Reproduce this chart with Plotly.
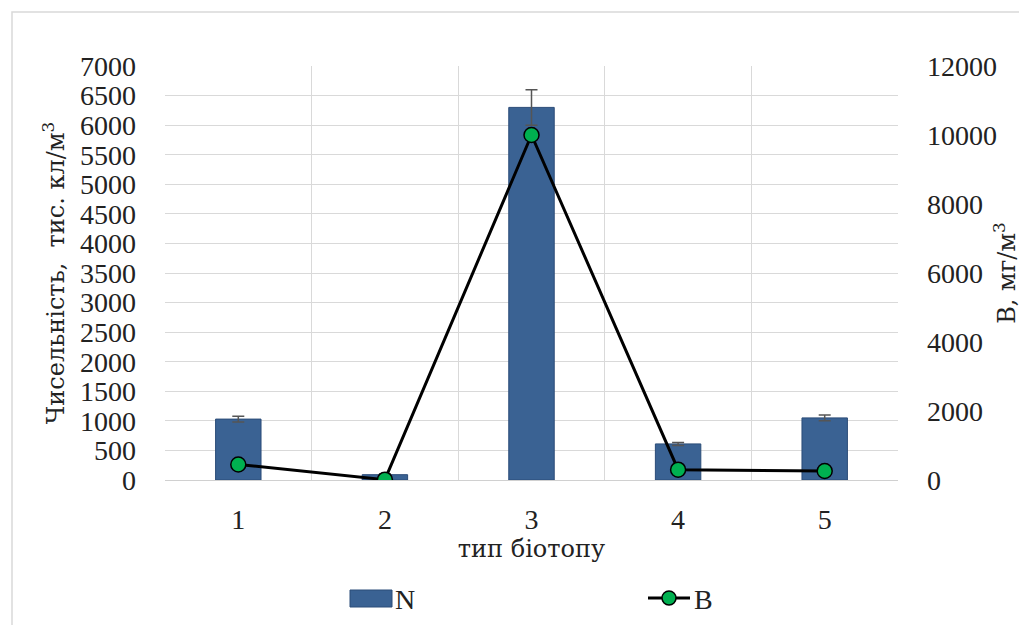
import plotly.graph_objects as go

categories = [1, 2, 3, 4, 5]
n_values = [1030, 90, 6300, 610, 1050]
n_errors = [50, 10, 300, 25, 50]
b_values = [450, 10, 10000, 300, 260]
left_ticks = list(range(0, 7001, 500))
right_ticks = list(range(0, 12001, 2000))

FONT = "Liberation Serif"
CYR_FONT = "DejaVu Serif"
FS = 28
BAR_COLOR = "#3A6293"
fig = go.Figure()
fig.add_trace(go.Bar(
    x=categories, y=n_values, name="N", width=0.31, showlegend=False,
    marker=dict(color=BAR_COLOR, line=dict(color="#2B4C78", width=1)),
    error_y=dict(type="data", array=n_errors, visible=True, color="#555555",
                 thickness=1.5, width=6),
))
fig.add_trace(go.Scatter(
    x=categories, y=b_values, name="B", yaxis="y2", mode="lines+markers", showlegend=False,
    line=dict(color="black", width=3),
    marker=dict(color="#00B050", size=15, line=dict(color="black", width=1.5)),
))

OFF = 8  # page body margin
L, R, T, B = 165 - OFF, 898 - OFF, 66 - OFF, 480 - OFF
W, H = 1027 - OFF, 625 - OFF

def px(x):
    return (x - OFF - L) / (R - L)

def py(y):
    return (B - (y - OFF)) / (B - T)

tfont = dict(family=FONT, size=FS, color="#222222")
cfont = dict(family=CYR_FONT, size=24, color="#222222")
fig.update_layout(
    width=W, height=H,
    margin=dict(l=L, r=W - R, t=T, b=H - B),
    paper_bgcolor="white", plot_bgcolor="white",
    font=tfont,
    showlegend=False,
    xaxis=dict(
        range=[0.5, 5.5], tickvals=categories, ticktext=[str(c) for c in categories],
        showgrid=False, zeroline=False, showline=True, linecolor="#d0d0d0",
        ticks="", ticklabelstandoff=14, automargin=False,
        minor=dict(tickvals=[0.5, 1.5, 2.5, 3.5, 4.5, 5.5], showgrid=True,
                   gridcolor="#d9d9d9", gridwidth=1, ticks=""),
        title=dict(text="тип біотопу", standoff=6, font=cfont),
    ),
    yaxis=dict(
        range=[0, 7000], tickvals=left_ticks, ticktext=[str(v) for v in left_ticks],
        showgrid=True, gridcolor="#d9d9d9",
        zeroline=False, ticks="", ticklabelstandoff=28, automargin=False,
        title=dict(text="Чисельність,  тис. кл/м<sup>3</sup>", standoff=8, font=cfont),
    ),
    yaxis2=dict(
        range=[0, 12000], tickvals=right_ticks, ticktext=[str(v) for v in right_ticks],
        overlaying="y", side="right",
        showgrid=False, zeroline=False, ticks="", ticklabelstandoff=28, automargin=False,
        title=dict(text="B, мг/м<sup>3</sup>", standoff=2, font=cfont),
    ),
)

# outer chart border
fig.add_shape(type="rect", xref="paper", yref="paper",
              x0=px(12), x1=px(1040), y0=py(640), y1=py(12),
              line=dict(color="#d9d9d9", width=1.5), fillcolor="rgba(0,0,0,0)",
              layer="below")

# legend drawn manually (Excel style)
fig.add_shape(type="rect", xref="paper", yref="paper",
              x0=px(350), x1=px(392), y0=py(607), y1=py(590),
              fillcolor=BAR_COLOR, line=dict(color="#2B4C78", width=1))
fig.add_annotation(xref="paper", yref="paper", x=px(393), y=py(599), text="N",
                   showarrow=False, xanchor="left", yanchor="middle", font=tfont)
fig.add_shape(type="line", xref="paper", yref="paper",
              x0=px(648), x1=px(690), y0=py(598), y1=py(598),
              line=dict(color="black", width=3))
fig.add_shape(type="circle", xref="paper", yref="paper",
              x0=px(662), x1=px(676), y0=py(605), y1=py(591),
              fillcolor="#00B050", line=dict(color="black", width=1.5))
fig.add_annotation(xref="paper", yref="paper", x=px(692), y=py(599), text="B",
                   showarrow=False, xanchor="left", yanchor="middle", font=tfont)

fig.write_html("out.html")
